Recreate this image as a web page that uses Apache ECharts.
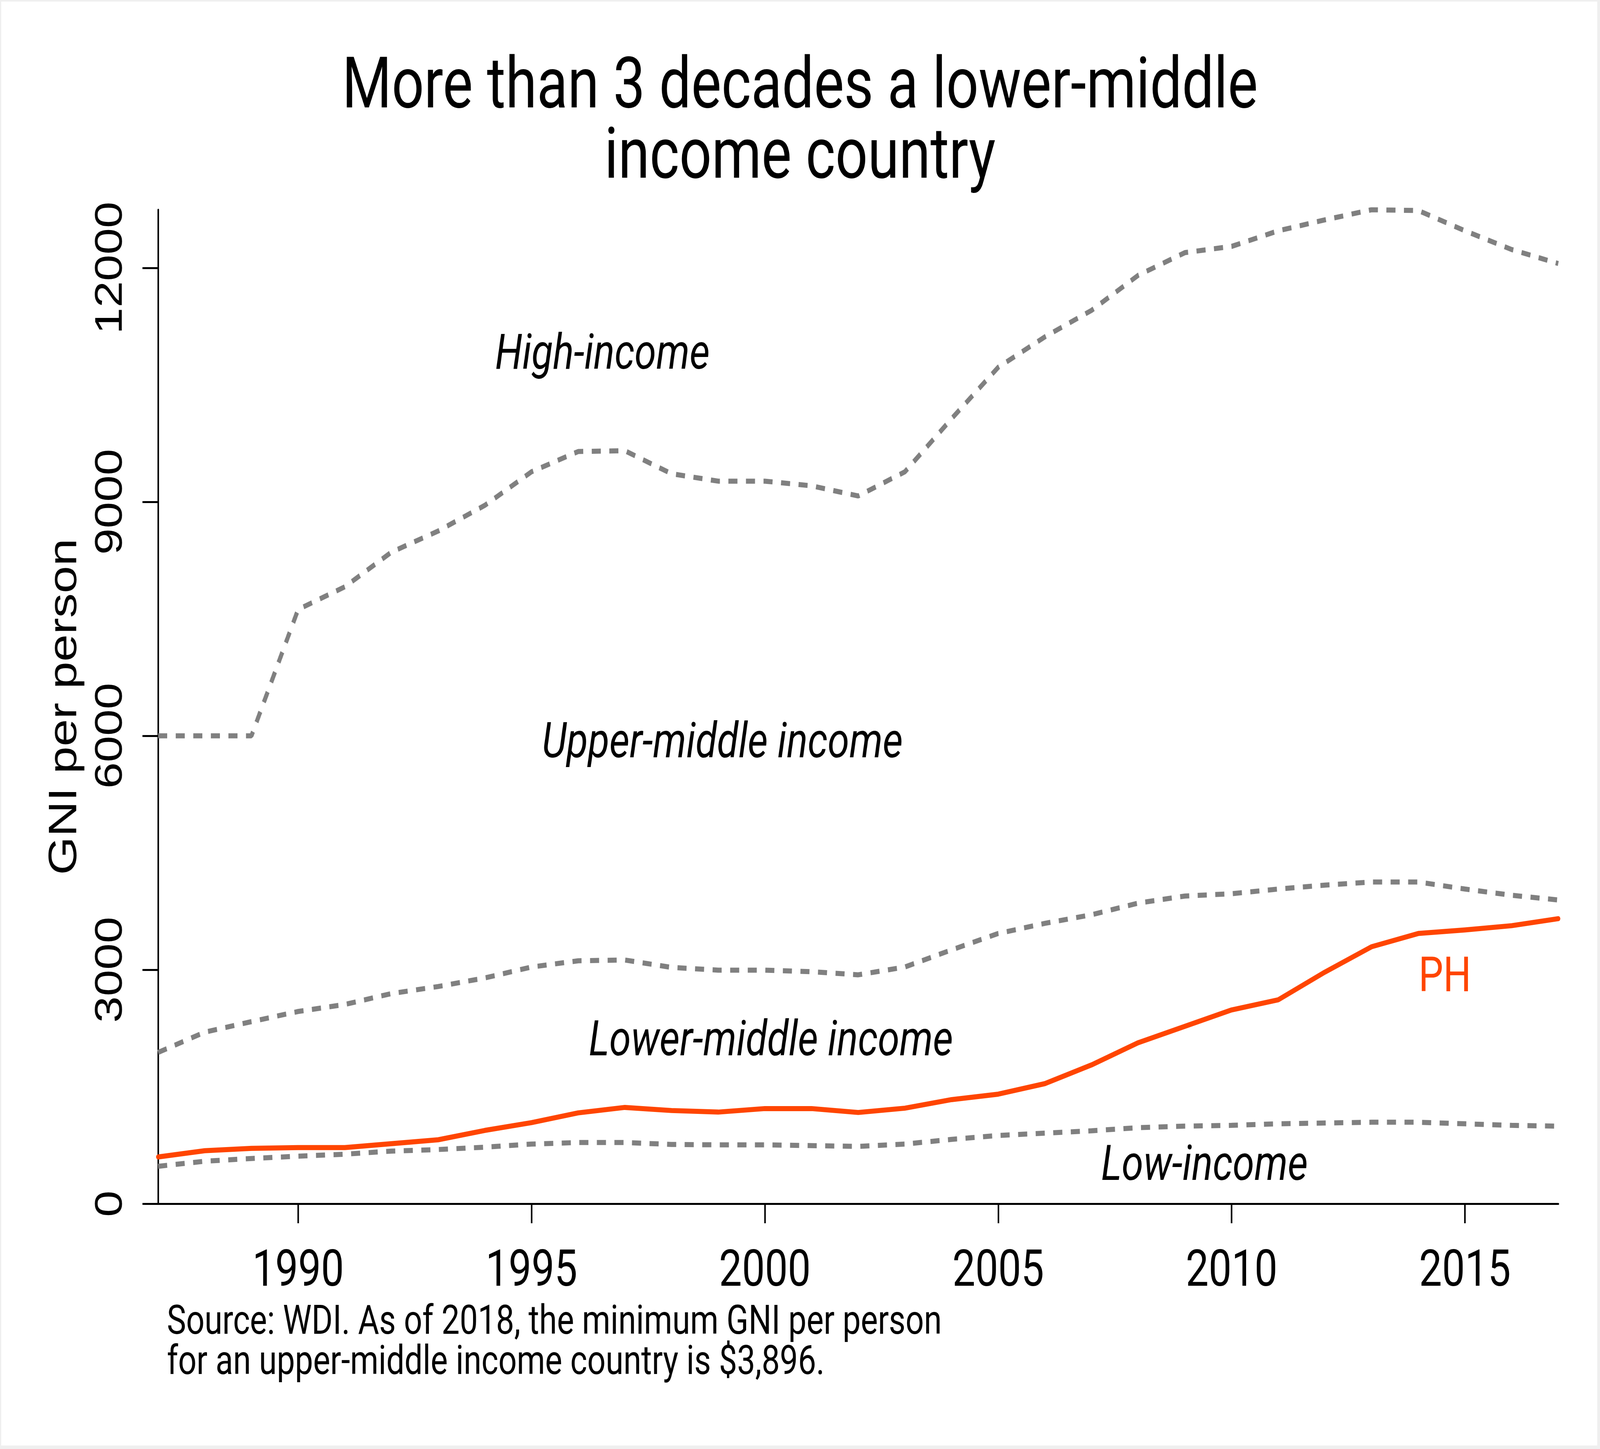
<!DOCTYPE html>
<html>
<head>
<meta charset="utf-8">
<script src="https://cdn.jsdelivr.net/npm/echarts@6/dist/echarts.min.js"></script>
<style>
  html, body { margin: 0; padding: 0; background: #efefef; overflow: hidden; width: 100%; height: 100%; }
  #chart { position: absolute; left: 0; top: 0; width: 5100px; height: 3710px; transform-origin: 0 0; }
</style>
</head>
<body>
<div id="chart"></div>
<script>
// ---- Data ----
const years = [1987,1988,1989,1990,1991,1992,1993,1994,1995,1996,1997,1998,1999,2000,2001,2002,2003,2004,2005,2006,2007,2008,2009,2010,2011,2012,2013,2014,2015,2016,2017];
const highIncome = [6000,6000,6000,7620,7910,8355,8625,8955,9385,9645,9655,9360,9265,9265,9205,9075,9385,10065,10725,11115,11455,11905,12195,12275,12475,12615,12745,12735,12475,12235,12055];
const upperMiddle = [1940,2200,2335,2465,2555,2695,2785,2895,3035,3115,3125,3030,2995,2995,2975,2935,3035,3255,3465,3595,3705,3855,3945,3975,4035,4085,4125,4125,4035,3955,3895];
const lowIncome = [480,545,580,610,635,675,695,725,765,785,785,760,755,755,745,735,765,825,875,905,935,975,995,1005,1025,1035,1045,1045,1025,1005,995];
const philippines = [600,680,710,720,720,770,820,940,1040,1165,1235,1195,1175,1220,1220,1170,1225,1335,1405,1540,1780,2065,2275,2485,2615,2970,3295,3465,3510,3565,3655];
const xTicks = [1990,1995,2000,2005,2010,2015];
const yTicks = [0,3000,6000,9000,12000];
const bandNames = ['High-income','Upper-middle income','Lower-middle income','Low-income'];
const bandLabelYears = [1996.52,1999.09,2000.13,2009.42];
const bandLabelValues = [10861,5879,2058,461];
const phLabel = ['PH', 2014.57, 2879];
const titleText = 'More than 3 decades a lower-middle\nincome country';
const sourceText = 'Source: WDI. As of 2018, the minimum GNI per person\nfor an upper-middle income country is $3,896.';

// ---- Layout: drawn on a 5100x3710 design canvas, fitted to the window ----
const W = 5100, H = 3710;
const el = document.getElementById('chart');
const sx = (window.innerWidth || W) / W;
const sy = (window.innerHeight || H) / H;
el.style.transform = 'scale(' + sx + ',' + sy + ')';

const GRAY = '#808080';
const ORANGE = '#FF4500';
const chart = echarts.init(el, null, { renderer: 'canvas', width: W, height: H });

const pair = (arr) => years.map((y, i) => [y, arr[i]]);
const dashed = (name, arr) => ({
  name, type: 'line', data: pair(arr), symbol: 'none', silent: true,
  lineStyle: { color: GRAY, width: 13, type: [29, 27], cap: 'butt' }, z: 2
});

const annotData = bandNames.map((n, i) => ({
  value: [bandLabelYears[i], bandLabelValues[i]], name: n
}));
annotData.push({
  value: [phLabel[1], phLabel[2]], name: phLabel[0],
  label: { fontStyle: 'normal', fontSize: 125, color: ORANGE }
});

chart.setOption({
  animation: false,
  backgroundColor: 'transparent',
  graphic: [
    { type: 'rect', shape: { x: 4, y: 4, width: 5087, height: 3697 }, style: { fill: '#ffffff' }, z: -10, silent: true },
    { type: 'text', left: 532, top: 3338, silent: true,
      style: { text: sourceText, font: '103px Roboto', lineHeight: 103, fill: '#000000' } }
  ],
  title: {
    text: titleText, left: 'center', top: 140, padding: 0,
    textStyle: { fontFamily: 'Roboto', fontSize: 181, lineHeight: 180, fontWeight: 'normal', color: '#000000' }
  },
  grid: { left: 504, right: 133, top: 537, bottom: 628, containLabel: false },
  xAxis: {
    type: 'value', min: 1987, max: 2017,
    splitLine: { show: false },
    axisLine: { show: true, onZero: false, lineStyle: { color: '#000', width: 5 } },
    axisTick: { show: true, customValues: xTicks, length: 50, lineStyle: { color: '#000', width: 5 } },
    axisLabel: { customValues: xTicks, margin: 112, fontFamily: 'Roboto', fontSize: 130, lineHeight: 130, color: '#000',
      formatter: (v) => String(v) }
  },
  yAxis: {
    type: 'value', min: 0, max: 'dataMax',
    splitLine: { show: false },
    axisLine: { show: true, onZero: false, lineStyle: { color: '#000', width: 5 } },
    axisTick: { show: true, customValues: yTicks, length: 50, lineStyle: { color: '#000', width: 5 } },
    axisLabel: { customValues: yTicks, rotate: 90, margin: 89, fontFamily: 'Liberation Sans', fontSize: 122, lineHeight: 122, color: '#000',
      formatter: (v) => String(v) },
    name: 'GNI per person', nameLocation: 'middle', nameGap: 233,
    nameTextStyle: { fontFamily: 'Liberation Sans', fontSize: 126, lineHeight: 126, color: '#000' }
  },
  series: [
    dashed('High-income threshold', highIncome),
    dashed('Upper-middle threshold', upperMiddle),
    dashed('Low-income threshold', lowIncome),
    {
      name: 'PH', type: 'line', data: pair(philippines), symbol: 'none', silent: true,
      lineStyle: { color: ORANGE, width: 13, cap: 'round', join: 'round' }, z: 3
    },
    {
      name: 'labels', type: 'scatter', data: annotData, symbolSize: 1, silent: true,
      itemStyle: { color: 'rgba(0,0,0,0)' }, z: 4,
      label: {
        show: true, position: 'inside', formatter: (p) => p.name,
        fontFamily: 'Roboto', fontStyle: 'italic', fontSize: 125, color: '#000000', opacity: 1,
        textBorderWidth: 0, align: 'center', verticalAlign: 'middle'
      }
    }
  ]
});
</script>
</body>
</html>
